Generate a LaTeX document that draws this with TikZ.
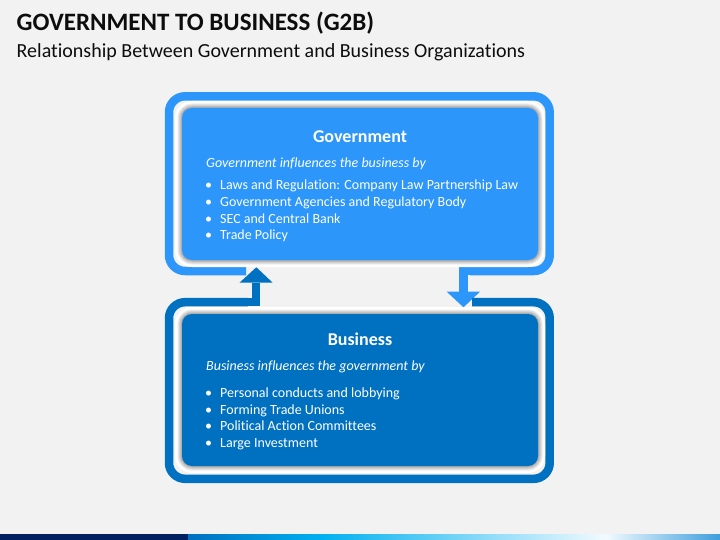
\documentclass[tikz,border=0pt]{standalone}
\usepackage{fontspec}
\setmainfont{Carlito}[Ligatures=NoCommon]
\usetikzlibrary{calc}
\definecolor{bgc}{HTML}{F2F2F2}
\definecolor{govc}{RGB}{44,150,250}
\definecolor{busc}{RGB}{0,112,192}
\definecolor{navyc}{HTML}{002060}
\definecolor{barA}{HTML}{0070C0}
\definecolor{barB}{HTML}{00B0F0}
\definecolor{barC}{HTML}{F2FAFF}
\definecolor{barD}{HTML}{3E9EDD}
\definecolor{titc}{HTML}{0D0D0D}
\newcommand\gbBevel[4]{%
  \fill[white, rounded corners=17pt] (#1-7,#2-7) rectangle (#3+7,#4+7);
  \foreach \e/\c/\r in {4.5/14/14.5, 3.5/28/13.5, 2.5/42/12.5, 1.5/56/11.5, 0.7/68/10.7}{%
    \fill[gray!\c, rounded corners=\r pt] (#1-\e,#2-\e) rectangle (#3+\e,#4+\e);
  }%
}
\tikzset{
  framestroke/.style={line width=8.5pt, line cap=butt},
  boxshape/.style={rounded corners=10pt, minimum width=356pt, minimum height=152pt, inner sep=0pt},
  hd/.style={text=white, font=\fontsize{18}{20}\selectfont\bfseries, inner sep=0pt},
  itl/.style={text=white, font=\fontsize{14}{16}\selectfont\itshape, inner sep=0pt, anchor=base west},
  bl/.style={text=white, font=\fontsize{14}{16}\selectfont, inner sep=0pt, anchor=base west},
}
\newcommand\gbBul{\llap{\textbullet\hspace{8.2pt}}}
\begin{document}
\begin{tikzpicture}[x=1pt,y=-1pt]
\fill[bgc] (0,0) rectangle (720,540);
\useasboundingbox (0,0) rectangle (720,540);

% titles
\node[anchor=base west, inner sep=0pt, text=titc, font=\fontsize{25}{28}\selectfont\bfseries] (title) at (16.5,30.5) {GOVERNMENT TO BUSINESS (G2B)};
\node[anchor=base west, inner sep=0pt, text=titc, font=\fontsize{20}{23}\selectfont] (subtitle) at (16.5,57.5) {Relationship Between Government and Business Organizations};

% coordinates of connectors
\coordinate (upBase) at (256,282.7);
\coordinate (upTip) at (256.3,267.3);
\coordinate (dnBase) at (463.5,291.7);
\coordinate (dnTip) at (463.5,307.3);

% top frame (government)
\draw[framestroke, govc, rounded corners=16pt] (246,271) -- (169,271) -- (169,96.3) -- (549.7,96.3) -- (549.7,271) -- (470,271);
\draw[framestroke, govc, line join=miter] (476,271) -- (463.5,271) -- (dnBase);
\fill[govc] ($(dnBase)+(-16.8,0)$) -- ($(dnBase)+(16.5,0)$) -- (dnTip) -- cycle;

% bottom frame (business)
\draw[framestroke, busc, rounded corners=16pt] (248,302.2) -- (169,302.2) -- (169,478.8) -- (549.7,478.8) -- (549.7,302.2) -- (472,302.2);
\draw[framestroke, busc, line join=miter] (240,302.2) -- (256,302.2) -- (upBase);
\fill[busc] ($(upBase)+(-16.5,0)$) -- ($(upBase)+(16.7,0)$) -- (upTip) -- cycle;

% bevels
\gbBevel{182}{108}{538}{260}
\gbBevel{182}{314}{538}{466}

% boxes
\node[boxshape, fill=govc] (gov) at (360,184) {};
\node[boxshape, fill=busc] (bus) at (360,390) {};

% government text
\node[hd, anchor=base] (govh) at (360,142.3) {Government};
\node[itl] (govi) at (206,167.3) {Government influences the business by};
\node[bl] (g1) at (220,190) {\gbBul Laws and Regulation: Company Law Partnership Law};
\node[bl] (g2) at (220,206.7) {\gbBul Government Agencies and Regulatory Body};
\node[bl] (g3) at (220,223.3) {\gbBul SEC and Central Bank};
\node[bl] (g4) at (220,240) {\gbBul Trade Policy};

% business text
\node[hd, anchor=base] (bush) at (360,345) {Business};
\node[itl] (busi) at (206,370.7) {Business influences the government by};
\node[bl] (b1) at (220,397.3) {\gbBul Personal conducts and lobbying};
\node[bl] (b2) at (220,414) {\gbBul Forming Trade Unions};
\node[bl] (b3) at (220,430.7) {\gbBul Political Action Committees};
\node[bl] (b4) at (220,447.3) {\gbBul Large Investment};

% bottom bar
\fill[navyc] (0,534) rectangle (188,540);
\shade[left color=barA, right color=barB] (188,534) rectangle (321,540);
\shade[left color=barB, right color=barC] (320.5,534) rectangle (606,540);
\shade[left color=barC, right color=barD] (605.5,534) rectangle (720,540);
\end{tikzpicture}
\end{document}
